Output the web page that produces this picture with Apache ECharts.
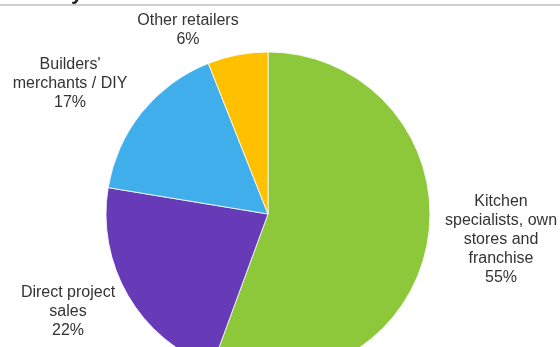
<!DOCTYPE html>
<html>
<head>
<meta charset="utf-8">
<script src="https://cdn.jsdelivr.net/npm/echarts@6/dist/echarts.min.js"></script>
<style>
html,body{margin:0;padding:0;background:#fff;}
#chart{width:560px;height:347px;}
</style>
</head>
<body>
<div id="chart"></div>
<script>
const categories = ["Kitchen\nspecialists, own\nstores and\nfranchise", "Direct project\nsales", "Builders'\nmerchants / DIY", "Other retailers"];
const values = [55.6, 22.0, 16.4, 6.0];
const shownPercents = [55, 22, 17, 6];
const colors = ["#8CC83A", "#673AB7", "#41AEEC", "#FFC000"];

const labelPos = [
  {x: 501, y: 240},
  {x: 68, y: 312},
  {x: 70, y: 84},
  {x: 188, y: 30}
];

const chart = echarts.init(document.getElementById('chart'), null, {renderer: 'canvas'});
chart.setOption({
  animation: false,
  backgroundColor: '#ffffff',
  graphic: [
    {type: 'line', shape: {x1: 0, y1: 5, x2: 560, y2: 5}, style: {stroke: '#bfbfbf', lineWidth: 1.5}, silent: true},
    {type: 'text', left: 71, top: -18, style: {text: 'y', font: 'bold 22px "Liberation Sans"', fill: '#262626'}, silent: true}
  ],
  series: [{
    type: 'pie',
    center: [268, 214],
    radius: 162,
    startAngle: 90,
    clockwise: true,
    avoidLabelOverlap: false,
    itemStyle: {borderColor: '#ffffff', borderWidth: 0.8},
    label: {
      show: true,
      position: 'outside',
      color: '#333333',
      fontFamily: 'Liberation Sans',
      fontSize: 16,
      lineHeight: 19,
      align: 'center',
      formatter: p => p.name + '\n' + shownPercents[p.dataIndex] + '%'
    },
    labelLine: {show: false},
    labelLayout: p => ({x: labelPos[p.dataIndex].x, y: labelPos[p.dataIndex].y, align: 'center', verticalAlign: 'middle'}),
    emphasis: {disabled: true},
    data: categories.map((c, i) => ({name: c, value: values[i], itemStyle: {color: colors[i]}}))
  }]
});
</script>
</body>
</html>
